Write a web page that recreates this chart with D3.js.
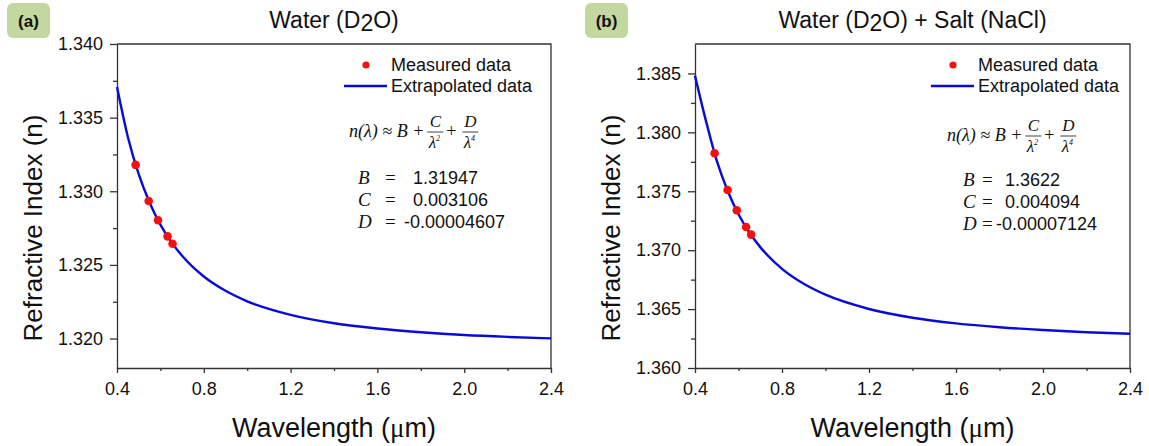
<!DOCTYPE html>
<html>
<head>
<meta charset="utf-8">
<script src="https://cdn.jsdelivr.net/npm/d3@7"></script>
<style>
  body { margin: 0; background: #fff; }
  svg { display: block; font-family: 'Liberation Sans', Arial, sans-serif; }
  .axis path, .axis line { stroke: #333; stroke-width: 1.3; }
  .axis text { fill: #111; font-size: 18px; }
</style>
</head>
<body>
<div id="chart"></div>
<script>
const wavelengths = [0.40, 0.45, 0.50, 0.55, 0.60, 0.65, 0.70, 0.80, 0.90, 1.0, 1.2, 1.4, 1.6, 1.8, 2.0, 2.2, 2.4]

// panel (a) water (D2O)
const waterCurve = [1.33708, 1.33369, 1.33116, 1.32924, 1.32774, 1.32656, 1.32562, 1.32421, 1.32324, 1.32253, 1.32161, 1.32104, 1.32068, 1.32043, 1.32024, 1.32011, 1.32001]
const waterMeasuredLambda = [0.486, 0.546, 0.589, 0.633, 0.656]
const waterMeasuredN = [1.33179, 1.32934, 1.32803, 1.32694, 1.32644]
const waterTicks = [1.320, 1.325, 1.330, 1.335, 1.340]
const waterMinorTicks = [1.3225, 1.3275, 1.3325, 1.3375]
const waterCoefs = ['1.31947', '0.003106', '-0.00004607']

// panel (b) water (D2O) + salt (NaCl)
const saltCurve = [1.38480, 1.38100, 1.37760, 1.37505, 1.37305, 1.37150, 1.37026, 1.36842, 1.36715, 1.36622, 1.36501, 1.36427, 1.36379, 1.36346, 1.36322, 1.36304, 1.36291]
const saltMeasuredLambda = [0.490, 0.550, 0.592, 0.635, 0.658]
const saltMeasuredN = [1.37823, 1.37511, 1.37339, 1.37197, 1.37132]
const saltTicks = [1.360, 1.365, 1.370, 1.375, 1.380, 1.385]
const saltMinorTicks = [1.3625, 1.3675, 1.3725, 1.3775, 1.3825]
const saltCoefs = ['1.3622', '0.004094', '-0.00007124']

const xTicks = [0.4, 0.8, 1.2, 1.6, 2.0, 2.4]
const xMinorTicks = [0.6, 1.0, 1.4, 1.8, 2.2]
const coefNames = ['B', 'C', 'D']

const width = 1149
const height = 446

class DispersionPanel {
  constructor(opts) {
    // load in arguments from config object
    this.svg = opts.svg
    this.letter = opts.letter
    this.letterX = opts.letterX
    this.left = opts.left
    this.right = opts.right
    this.top = 44
    this.bottom = 368
    this.yDomain = opts.yDomain
    this.yTicks = opts.yTicks
    this.yMinorTicks = opts.yMinorTicks
    this.curve = opts.curve
    this.measuredLambda = opts.measuredLambda
    this.measuredN = opts.measuredN
    this.title = opts.title
    this.legendX = opts.legendX
    this.eqX = opts.eqX
    this.eqY = opts.eqY
    this.coefY = opts.coefY
    this.coefX = opts.coefX
    this.equalsX = opts.equalsX
    this.valueX = opts.valueX
    this.coefs = opts.coefs

    this.generate()
  }

  generate() {
    this.w = this.right - this.left
    this.h = this.bottom - this.top
    this.group = this.svg.append('g')
      .attr('transform', `translate(${this.left},${this.top})`)

    this.addScales()
    this.addAxes()
    this.addCurve()
    this.addPoints()
    this.addTitles()
    this.addLegend()
    this.addEquation()
  }

  addScales() {
    this.x = d3.scaleLinear().domain([0.4, 2.4]).range([0, this.w])
    this.y = d3.scaleLinear().domain(this.yDomain).range([this.h, 0])
  }

  addAxes() {
    // top and right edges of the frame
    this.group.append('path')
      .attr('d', `M0,0H${this.w}V${this.h}`)
      .attr('fill', 'none')
      .attr('stroke', '#333')
      .attr('stroke-width', 1.3)

    this.group.append('g')
      .attr('class', 'axis')
      .call(d3.axisLeft(this.y).tickValues(this.yMinorTicks).tickSize(4).tickFormat(''))
      .select('.domain').remove()
    this.group.append('g')
      .attr('class', 'axis')
      .call(d3.axisLeft(this.y).tickValues(this.yTicks).tickSize(7).tickSizeOuter(0)
        .tickPadding(7).tickFormat(d3.format('.3f')))

    const bottomAxis = this.group.append('g')
      .attr('class', 'axis')
      .attr('transform', `translate(0,${this.h})`)
    bottomAxis.append('g')
      .call(d3.axisBottom(this.x).tickValues(xMinorTicks).tickSize(3).tickFormat(''))
      .select('.domain').remove()
    bottomAxis.append('g')
      .call(d3.axisBottom(this.x).tickValues(xTicks).tickSize(5).tickSizeOuter(0)
        .tickPadding(9).tickFormat(d3.format('.1f')))
  }

  addCurve() {
    const line = d3.line()
      .x((d, i) => this.x(wavelengths[i]))
      .y(d => this.y(d))
      .curve(d3.curveMonotoneX)

    this.group.append('path')
      .datum(this.curve)
      .attr('d', line)
      .attr('fill', 'none')
      .attr('stroke', '#0a0ad8')
      .attr('stroke-width', 2.4)
  }

  addPoints() {
    this.group.selectAll('circle.measured')
      .data(this.measuredN)
      .enter()
      .append('circle')
      .attr('class', 'measured')
      .attr('cx', (d, i) => this.x(this.measuredLambda[i]))
      .attr('cy', d => this.y(d))
      .attr('r', 4.3)
      .attr('fill', '#f51010')
  }

  addTitles() {
    // panel letter badge
    this.svg.append('rect')
      .attr('x', this.letterX)
      .attr('y', 3)
      .attr('width', 43)
      .attr('height', 35)
      .attr('rx', 6)
      .attr('fill', '#c3d7a0')
    this.svg.append('text')
      .attr('x', this.letterX + 21.5)
      .attr('y', 27)
      .attr('text-anchor', 'middle')
      .attr('font-size', 17)
      .attr('font-weight', 'bold')
      .attr('fill', '#111')
      .text(`(${this.letter})`)

    // chart title, D2O with a lowered 2
    const title = this.group.append('text')
      .attr('x', this.w / 2)
      .attr('y', -16)
      .attr('text-anchor', 'middle')
      .attr('font-size', 23)
      .attr('fill', '#111')
    this.title.forEach(part => {
      const span = title.append('tspan').text(part.text)
      if (part.sub) span.attr('dy', 3)
      else if (part.after) span.attr('dy', -3)
    })

    this.group.append('text')
      .attr('transform', `translate(-75,${184}) rotate(-90)`)
      .attr('text-anchor', 'middle')
      .attr('font-size', 26)
      .attr('fill', '#111')
      .text('Refractive Index (n)')

    const xTitle = this.group.append('text')
      .attr('x', this.w / 2)
      .attr('y', this.h + 69)
      .attr('text-anchor', 'middle')
      .attr('font-size', 27)
      .attr('fill', '#111')
    xTitle.append('tspan').text('Wavelength (')
    xTitle.append('tspan').attr('font-family', "'Liberation Serif', serif").text('\u03bc')
    xTitle.append('tspan').text('m)')
  }

  addLegend() {
    const lx = this.legendX
    this.svg.append('circle')
      .attr('cx', lx - 25)
      .attr('cy', 65)
      .attr('r', 3.6)
      .attr('fill', '#f51010')
    this.svg.append('text')
      .attr('x', lx)
      .attr('y', 71)
      .attr('font-size', 18)
      .attr('fill', '#111')
      .text('Measured data')

    this.svg.append('line')
      .attr('x1', lx - 47)
      .attr('x2', lx - 4)
      .attr('y1', 86)
      .attr('y2', 86)
      .attr('stroke', '#0a0ad8')
      .attr('stroke-width', 2.4)
    this.svg.append('text')
      .attr('x', lx)
      .attr('y', 92)
      .attr('font-size', 18)
      .attr('fill', '#111')
      .text('Extrapolated data')
  }

  addEquation() {
    const serif = "'Liberation Serif', 'Times New Roman', serif"
    const eq = this.svg.append('g')
      .attr('font-family', serif)
      .attr('font-style', 'italic')
      .attr('fill', '#111')

    const head = eq.append('text')
      .attr('x', this.eqX)
      .attr('y', this.eqY)
      .attr('font-size', 18)
      .text('n(\u03bb) \u2248 B +')
    let cx = this.eqX + head.node().getComputedTextLength() + 11

    const fraction = (num, power) => {
      eq.append('text')
        .attr('x', cx)
        .attr('y', this.eqY - 10)
        .attr('text-anchor', 'middle')
        .attr('font-size', 17)
        .text(num)
      eq.append('line')
        .attr('x1', cx - 8)
        .attr('x2', cx + 8)
        .attr('y1', this.eqY - 5)
        .attr('y2', this.eqY - 5)
        .attr('stroke', '#111')
        .attr('stroke-width', 0.8)
      const den = eq.append('text')
        .attr('x', cx - 1)
        .attr('y', this.eqY + 11)
        .attr('text-anchor', 'middle')
        .attr('font-size', 17)
      den.append('tspan').text('\u03bb')
      den.append('tspan').attr('font-size', 8).attr('dy', -7).text(power)
    }

    fraction('C', '2')
    eq.append('text')
      .attr('x', cx + 16)
      .attr('y', this.eqY)
      .attr('text-anchor', 'middle')
      .attr('font-size', 18)
      .attr('font-style', 'normal')
      .text('+')
    cx += 35
    fraction('D', '4')

    // fitted coefficients
    coefNames.forEach((name, i) => {
      const yy = this.coefY + i * 22
      eq.append('text')
        .attr('x', this.coefX)
        .attr('y', yy)
        .attr('font-size', 19)
        .text(name)
      eq.append('text')
        .attr('x', this.equalsX)
        .attr('y', yy)
        .attr('font-size', 19)
        .attr('font-style', 'normal')
        .text('=')
      this.svg.append('text')
        .attr('x', this.coefs[i].startsWith('-') ? this.valueX - 9 : this.valueX)
        .attr('y', yy)
        .attr('font-size', 18)
        .attr('fill', '#111')
        .text(this.coefs[i])
    })
  }
}

const svg = d3.select('#chart').append('svg')
  .attr('width', width)
  .attr('height', height)

new DispersionPanel({
  svg,
  letter: 'a',
  letterX: 7,
  left: 117,
  right: 551,
  yDomain: [1.318, 1.340],
  yTicks: waterTicks,
  yMinorTicks: waterMinorTicks,
  curve: waterCurve,
  measuredLambda: waterMeasuredLambda,
  measuredN: waterMeasuredN,
  title: [{ text: 'Water (D' }, { text: '2', sub: true }, { text: 'O)', after: true }],
  legendX: 391,
  eqX: 349,
  eqY: 137,
  coefY: 184,
  coefX: 358,
  equalsX: 385,
  valueX: 413,
  coefs: waterCoefs
})

new DispersionPanel({
  svg,
  letter: 'b',
  letterX: 585,
  left: 695,
  right: 1130,
  yDomain: [1.360, 1.3875],
  yTicks: saltTicks,
  yMinorTicks: saltMinorTicks,
  curve: saltCurve,
  measuredLambda: saltMeasuredLambda,
  measuredN: saltMeasuredN,
  title: [{ text: 'Water (D' }, { text: '2', sub: true }, { text: 'O) + Salt (NaCl)', after: true }],
  legendX: 978,
  eqX: 947,
  eqY: 141,
  coefY: 186,
  coefX: 963,
  equalsX: 982,
  valueX: 1005,
  coefs: saltCoefs
})
</script>
</body>
</html>
